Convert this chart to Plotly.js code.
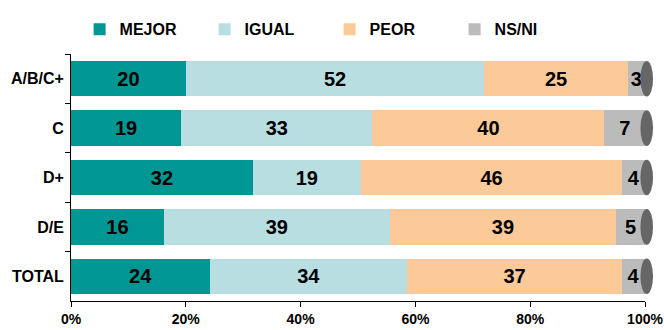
<!DOCTYPE html>
<html>
<head>
<meta charset="utf-8">
<script src="https://cdn.plot.ly/plotly-3.0.1.min.js"></script>
<style>html,body{margin:0;padding:0;background:#fff;}#chart{width:664px;height:330px;}</style>
</head>
<body>
<div id="chart"></div>
<script>
const categories = ["A/B/C+", "C", "D+", "D/E", "TOTAL"];
const seriesNames = ["MEJOR", "IGUAL", "PEOR", "NS/NI"];
const mejor = [20, 19, 32, 16, 24];
const igual = [52, 33, 19, 39, 34];
const peor  = [25, 40, 46, 39, 37];
const nsni  = [3, 7, 4, 5, 4];
const xTickVals = [0, 20, 40, 60, 80, 100];
const xTickText = ["0%", "20%", "40%", "60%", "80%", "100%"];

const colors = ["#009693", "#B8DEE1", "#FBCA98", "#BBBBBB"];
const values = [mejor, igual, peor, nsni];
const FONT = "Liberation Sans, Arial, sans-serif";

const traces = values.map((v, i) => ({
  type: "bar",
  orientation: "h",
  name: seriesNames[i],
  y: categories,
  x: v,
  text: v.map(String),
  textposition: "inside",
  insidetextanchor: "middle",
  textangle: 0,
  textfont: {family: FONT, size: 20, color: "#000000", weight: "bold"},
  marker: {color: colors[i], line: {width: 0}},
  hoverinfo: "name+text"
}));

const shapes = categories.map((c, i) => ({
  type: "circle",
  xref: "paper", yref: "y",
  x0: 0.992, x1: 1.014,
  y0: i - 0.36, y1: i + 0.36,
  fillcolor: "#666666",
  line: {width: 0},
  layer: "above"
}));

const layout = {
  width: 664, height: 330,
  margin: {l: 71, r: 19, t: 44, b: 29},
  paper_bgcolor: "#ffffff",
  plot_bgcolor: "#ffffff",
  barmode: "stack",
  barnorm: "percent",
  bargap: 0.28,
  showlegend: true,
  legend: {
    orientation: "h",
    x: 0.015, xanchor: "left",
    y: 1.1, yanchor: "middle",
    font: {family: FONT, size: 16, color: "#000000", weight: "bold"},
    entrywidth: 80,
    itemwidth: 30,
    traceorder: "normal"
  },
  xaxis: {
    range: [0, 100],
    tickvals: xTickVals,
    ticktext: xTickText,
    ticks: "outside", ticklen: 5, tickcolor: "#000",
    showline: true, linecolor: "#000", linewidth: 1,
    showgrid: false, zeroline: false,
    ticklabeloverflow: "allow",
    tickfont: {family: FONT, size: 14, color: "#000", weight: "bold"},
    fixedrange: true
  },
  yaxis: {
    type: "category",
    autorange: "reversed",
    tickson: "boundaries",
    ticks: "outside", ticklen: 5, tickcolor: "#000",
    showline: true, linecolor: "#000", linewidth: 1,
    showgrid: false, zeroline: false,
    tickfont: {family: FONT, size: 16, color: "#000", weight: "bold"},
    ticklabelstandoff: 3,
    fixedrange: true
  },
  shapes: shapes
};

Plotly.newPlot("chart", traces, layout, {displayModeBar: false, staticPlot: true});
</script>
</body>
</html>
